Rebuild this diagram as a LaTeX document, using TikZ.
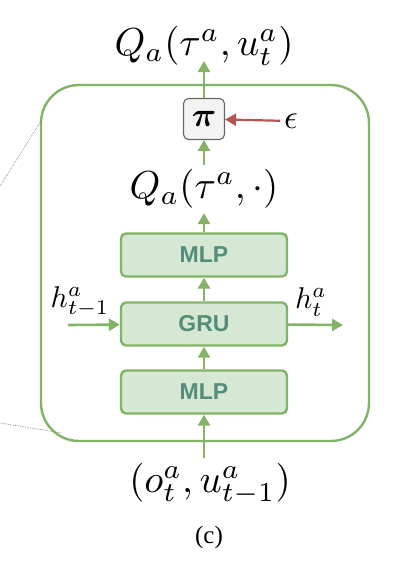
\documentclass[tikz,border=0pt]{standalone}
\usepackage{amsmath}
\usepackage{amssymb}
\usepackage{fontspec}
\usepackage{tikz}
\usetikzlibrary{arrows.meta,positioning}
\newfontfamily\blockfont{Liberation Sans}
\newfontfamily\capfont{Liberation Serif}
\definecolor{netgreen}{HTML}{82B366}
\definecolor{netfill}{HTML}{D5E8D4}
\definecolor{nettext}{RGB}{85,140,122}
\definecolor{selred}{HTML}{B85450}
\definecolor{selgray}{HTML}{666666}
\definecolor{selfill}{HTML}{F3F3F3}

\begin{document}
\begin{tikzpicture}[
  x=1pt, y=-1pt,
  frame/.style={draw=netgreen, line width=2.4pt, rounded corners=38pt, minimum width=328pt, minimum height=356pt},
  layer/.style={draw=netgreen, line width=2.4pt, fill=netfill, rounded corners=5pt, minimum width=166pt, minimum height=43pt, font=\blockfont\bfseries\fontsize{23}{26}\selectfont, text=nettext},
  sel/.style={draw=selgray, line width=1.1pt, fill=selfill, rounded corners=5pt, minimum size=41pt, inner sep=0pt},
  lbl/.style={scale=3.9, inner sep=1pt},
  hlbl/.style={scale=3.0, inner sep=1pt},
  >={Triangle[length=11pt, width=12pt]},
  every edge/.style={draw=netgreen, line width=2.6pt, ->}
]
\useasboundingbox (0,0) rectangle (410,562);

\node[frame] (agent) at (205,263) {};

\node[layer] (mlpin)  at (204,392) {MLP};
\node[layer] (gru)    at (204,324) {GRU};
\node[layer] (mlpout) at (204,255) {MLP};
\node[sel]   (pi)     at (204,119) {\scalebox{3.4}{$\boldsymbol{\pi}$}};

\node[lbl] (qall) at (204,189) {$Q_a(\tau^a,\cdot)$};
\node[lbl] (qout) at (204,46)  {$Q_a(\tau^a,u^a_t)$};
\node[lbl] (obs)  at (210,484) {$(o^a_t,u^a_{t-1})$};
\node[scale=3.4, inner sep=1pt] (eps) at (291,121) {$\epsilon$};
\node[hlbl] (hin)  at (80,302)  {$h^a_{t-1}$};
\node[hlbl] (hout) at (311,302) {$h^a_t$};
\node[font=\capfont\fontsize{25}{28}\selectfont] (cap) at (209,537) {(c)};

\coordinate (qtip)  at (204,61);
\coordinate (hfrom) at (68,325);
\coordinate (hto)   at (343,325);

\draw (obs.north -| mlpin) edge (mlpin);
\draw (mlpin) edge (gru);
\draw (gru) edge (mlpout);
\draw (mlpout) edge (qall.south -| mlpout);
\draw (qall.north -| pi) edge (pi);
\draw (pi) edge (qtip);
\draw (hfrom) edge (gru);
\draw (gru) edge (hto);
\draw[->, draw=selred, line width=2.2pt] (eps) -- (pi);

% dotted guides to the left panel
\coordinate (guideA) at (0,186);
\coordinate (guideB) at (0,423);
\draw[gray, densely dotted, line width=0.7pt] (guideA) -- (41,121);
\draw[gray, densely dotted, line width=0.7pt] (guideB) -- (62,433);

\end{tikzpicture}
\end{document}
